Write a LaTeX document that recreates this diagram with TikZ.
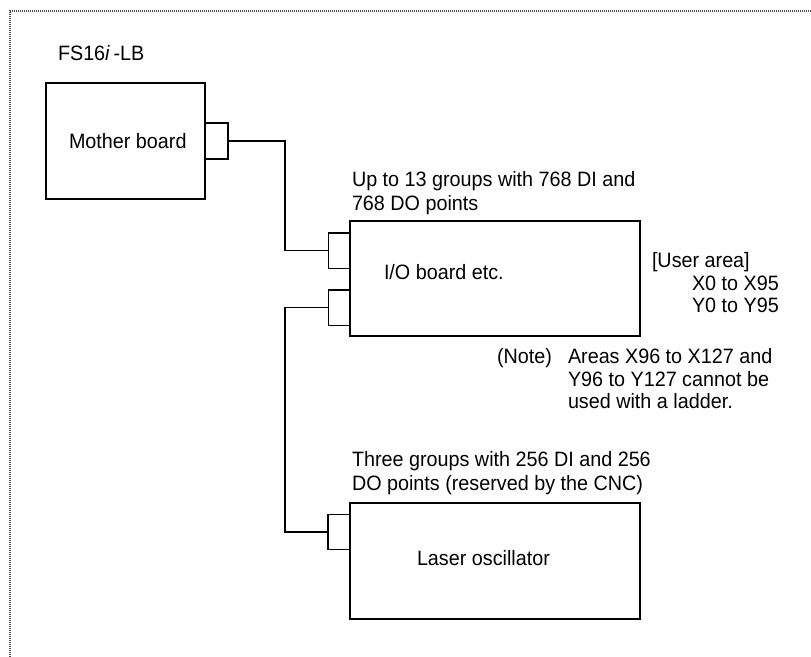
\documentclass[tikz,border=0pt]{standalone}
\usepackage{fontspec}
\setmainfont{Liberation Sans}[FakeStretch=0.95]
\begin{document}
\begin{tikzpicture}[x=0.75pt,y=-0.75pt,
  every node/.style={inner sep=0pt,outer sep=0pt},
  unit/.style={draw=black,line width=1pt,minimum width=#1},
  unit/.default=217.5pt,
  plug/.style={draw=black,line width=1pt,minimum width=16.5pt,minimum height=26.5pt},
  wire/.style={draw=black,line width=1pt},
  lbl/.style={anchor=base west,font=\fontsize{15.6}{17.25}\selectfont},
  frame/.style={draw=black!70,line width=1.6pt,dash pattern=on 0.8pt off 0.7pt}]
\useasboundingbox (0,0) rectangle (811,657);

% open frame: top and left edges only
\draw[frame] (10,657) -- (10,11) -- (811,11);

% system label
\node[lbl] (sys) at (58,60) {FS16\textit{i}\,-LB};

% mother board with its connector
\node[unit=119.25pt,minimum height=87pt] (mb) at (125.5,141) {};
\node[lbl] (mbtxt) at (69,148) {Mother board};
\node[plug,minimum width=17.25pt,minimum height=27pt] (mbc) at (216.5,141) {};

% I/O board with two connectors
\node[unit,minimum height=86.25pt] (io) at (495,278.5) {};
\node[lbl] (iotxt) at (384,279) {I/O board etc.};
\node[plug] (ioc1) at (339.5,250.5) {};
\node[plug] (ioc2) at (339.5,307.5) {};

% laser oscillator with its connector
\node[unit,minimum height=87pt] (laser) at (495,561) {};
\node[lbl] (lasertxt) at (417,565) {Laser oscillator};
\node[plug] (lc) at (339,532) {};

% cabling
\coordinate (bus) at (285,0);
\draw[wire] (mbc.east) -| (bus |- ioc1.west) -- (ioc1.west);
\draw[wire] (ioc2.west) -| (bus |- lc.west) -- (lc.west);

% capacity notes
\node[lbl] (io1) at (352,186.5) {Up to 13 groups with 768 DI and};
\node[lbl] (io2) at (352,210) {768 DO points};
\node[lbl] (ls1) at (352,466.7) {Three groups with 256 DI and 256};
\node[lbl] (ls2) at (352,490) {DO points (reserved by the CNC)};

% user area
\node[lbl] (ua0) at (652,267) {[User area]};
\node[lbl] (ua1) at (692,290) {X0 to X95};
\node[lbl] (ua2) at (692,312.7) {Y0 to Y95};

% note
\node[lbl] (nt0) at (497,363) {(Note)};
\node[lbl] (nt1) at (568,363) {Areas X96 to X127 and};
\node[lbl] (nt2) at (568,386) {Y96 to Y127 cannot be};
\node[lbl] (nt3) at (568,408.5) {used with a ladder.};
\end{tikzpicture}
\end{document}
